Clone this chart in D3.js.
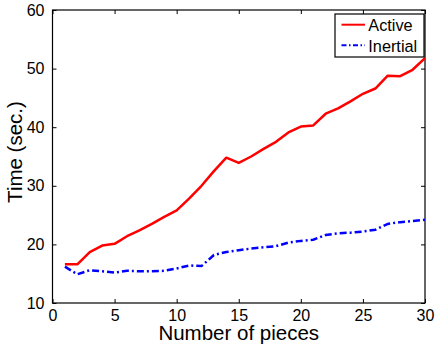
<!DOCTYPE html>
<html>
<head>
<meta charset="utf-8">
<script src="https://cdn.jsdelivr.net/npm/d3@7"></script>
<style>
  html, body { margin: 0; padding: 0; background: #fff; }
  svg { display: block; }
  text { font-family: "Liberation Sans", Arial, Helvetica, sans-serif; fill: #000; }
</style>
</head>
<body>
<script>
// Timing results per number of pieces
const pieces = d3.range(1, 31);
const activeTime = [16.6, 16.6, 18.7, 19.8, 20.1, 21.4, 22.4, 23.5, 24.7, 25.8,
                    27.8, 30.0, 32.5, 34.8, 33.9, 35.0, 36.3, 37.5, 39.1, 40.1,
                    40.3, 42.3, 43.2, 44.4, 45.7, 46.6, 48.8, 48.7, 49.8, 51.8];
const inertialTime = [16.2, 14.9, 15.6, 15.4, 15.2, 15.5, 15.4, 15.4, 15.5, 15.9,
                      16.4, 16.3, 18.2, 18.7, 19.0, 19.3, 19.5, 19.7, 20.3, 20.6,
                      20.8, 21.6, 21.9, 22.0, 22.2, 22.5, 23.5, 23.8, 24.0, 24.2];
const xTicks = [0, 5, 10, 15, 20, 25, 30];
const yTicks = [10, 20, 30, 40, 50, 60];
const seriesNames = ["Active", "Inertial"];

const W = 435, H = 350;
const plotL = 52.5, plotR = 425, plotT = 10, plotB = 303;

const svg = d3.select("body").append("svg").attr("width", W).attr("height", H);

const x = d3.scaleLinear().domain([0, 30]).range([plotL, plotR]);
const y = d3.scaleLinear().domain([10, 60]).range([plotB, plotT]);

// Axes with inward ticks on all four sides
function styleAxis(g) {
  g.select(".domain").remove();
  g.selectAll(".tick line").attr("stroke", "#000").attr("stroke-width", 1);
}
svg.append("g").attr("transform", `translate(0,${plotB})`)
  .call(d3.axisBottom(x).tickValues(xTicks).tickSize(-4).tickPadding(7))
  .call(styleAxis)
  .selectAll("text").attr("font-size", 16).attr("dy", "0.71em")
  .attr("font-family", "Liberation Sans, Arial, sans-serif").attr("fill", "#000");
svg.append("g").attr("transform", `translate(0,${plotT})`)
  .call(d3.axisTop(x).tickValues(xTicks).tickSize(-4).tickFormat(""))
  .call(styleAxis);
svg.append("g").attr("transform", `translate(${plotL},0)`)
  .call(d3.axisLeft(y).tickValues(yTicks).tickSize(-4).tickPadding(8))
  .call(styleAxis)
  .selectAll("text").attr("font-size", 16)
  .attr("font-family", "Liberation Sans, Arial, sans-serif").attr("fill", "#000");
svg.append("g").attr("transform", `translate(${plotR},0)`)
  .call(d3.axisRight(y).tickValues(yTicks).tickSize(-4).tickFormat(""))
  .call(styleAxis);

// Plot box
svg.append("rect")
  .attr("x", plotL).attr("y", plotT)
  .attr("width", plotR - plotL).attr("height", plotB - plotT)
  .attr("fill", "none").attr("stroke", "#000").attr("stroke-width", 1.2);

// Series lines
const line = d3.line().x((d, i) => x(pieces[i])).y(d => y(d));
svg.append("path").datum(activeTime)
  .attr("d", line).attr("fill", "none")
  .attr("stroke", "#ff0000").attr("stroke-width", 2.5)
  .attr("stroke-linejoin", "round");
svg.append("path").datum(inertialTime)
  .attr("d", line).attr("fill", "none")
  .attr("stroke", "#0000ff").attr("stroke-width", 2.5)
  .attr("stroke-dasharray", "7,3,2,3");

// Axis titles
svg.append("text")
  .attr("x", (plotL + plotR) / 2).attr("y", 340)
  .attr("text-anchor", "middle").attr("font-size", 20.5)
  .text("Number of pieces");
svg.append("text")
  .attr("transform", `translate(22.3,152) rotate(-90)`)
  .attr("text-anchor", "middle").attr("font-size", 20.5)
  .text("Time (sec.)");

// Legend
const lg = svg.append("g");
lg.append("rect")
  .attr("x", 335).attr("y", 14).attr("width", 89).attr("height", 43)
  .attr("fill", "#fff").attr("stroke", "#000").attr("stroke-width", 1.2);
const legendRows = [
  { name: seriesNames[0], y: 24.7, color: "#ff0000", dash: null },
  { name: seriesNames[1], y: 45.3, color: "#0000ff", dash: "5,2.5,1.5,2.5" }
];
legendRows.forEach(r => {
  lg.append("line")
    .attr("x1", 341.5).attr("x2", 365).attr("y1", r.y).attr("y2", r.y)
    .attr("stroke", r.color).attr("stroke-width", 2)
    .attr("stroke-dasharray", r.dash);
  lg.append("text")
    .attr("x", 368.3).attr("y", r.y + 6.2)
    .attr("font-size", 16.3)
    .text(r.name);
});
</script>
</body>
</html>
